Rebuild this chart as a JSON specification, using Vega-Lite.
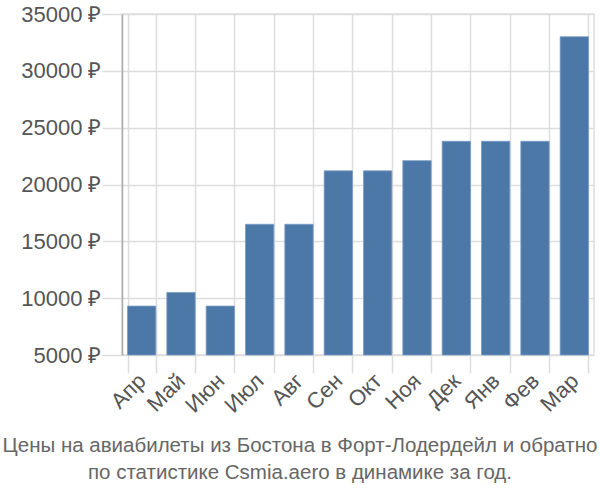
{
  "$schema": "https://vega.github.io/schema/vega-lite/v6.json",
  "width": 472,
  "height": 341,
  "autosize": {"type": "none"},
  "padding": {"left": 122, "top": 14, "right": 6, "bottom": 145},
  "background": "white",
  "config": {
    "view": {"stroke": "#dddddd", "strokeWidth": 1.5},
    "font": "Liberation Sans"
  },
  "title": {
    "text": ["Цены на авиабилеты из Бостона в Форт-Лодердейл и обратно", "по статистике Csmia.aero в динамике за год."],
    "orient": "bottom",
    "anchor": "middle",
    "frame": "group",
    "dx": -58,
    "offset": 20,
    "font": "Liberation Sans",
    "fontSize": 20.5,
    "fontWeight": "normal",
    "color": "#666666",
    "lineHeight": 27
  },
  "data": {
    "values": [
      {"month": "Апр", "price": 9300},
      {"month": "Май", "price": 10500},
      {"month": "Июн", "price": 9300},
      {"month": "Июл", "price": 16500},
      {"month": "Авг", "price": 16500},
      {"month": "Сен", "price": 21200},
      {"month": "Окт", "price": 21200},
      {"month": "Ноя", "price": 22100},
      {"month": "Дек", "price": 23800},
      {"month": "Янв", "price": 23800},
      {"month": "Фев", "price": 23800},
      {"month": "Мар", "price": 33000}
    ]
  },
  "mark": {"type": "bar", "color": "#4c78a8", "stroke": "#7a9cc4", "strokeWidth": 0.8},
  "encoding": {
    "x": {
      "field": "month",
      "type": "nominal",
      "sort": null,
      "scale": {"paddingInner": 0.28, "paddingOuter": 0.14},
      "axis": {
        "title": null,
        "grid": true,
        "gridColor": "#dddddd",
        "gridWidth": 1.5,
        "domain": false,
        "ticks": true,
        "tickBand": "extent",
        "tickColor": "#dddddd",
        "tickWidth": 1.5,
        "tickSize": 18,
        "labelAngle": -45,
        "labelAlign": "right",
        "labelBaseline": "middle",
        "labelFontSize": 22,
        "labelColor": "#555555",
        "labelPadding": 4
      }
    },
    "y": {
      "field": "price",
      "type": "quantitative",
      "scale": {"domain": [5000, 35000]},
      "axis": {
        "title": null,
        "values": [5000, 10000, 15000, 20000, 25000, 30000, 35000],
        "labelExpr": "datum.value + ' ₽'",
        "grid": true,
        "gridColor": "#dddddd",
        "gridWidth": 1.5,
        "domain": true,
        "domainColor": "#aaaaaa",
        "domainWidth": 1.5,
        "tickColor": "#dddddd",
        "tickWidth": 1.5,
        "tickSize": 20,
        "labelFontSize": 22,
        "labelColor": "#555555",
        "labelPadding": 1
      }
    },
    "y2": {"datum": 5000}
  }
}
